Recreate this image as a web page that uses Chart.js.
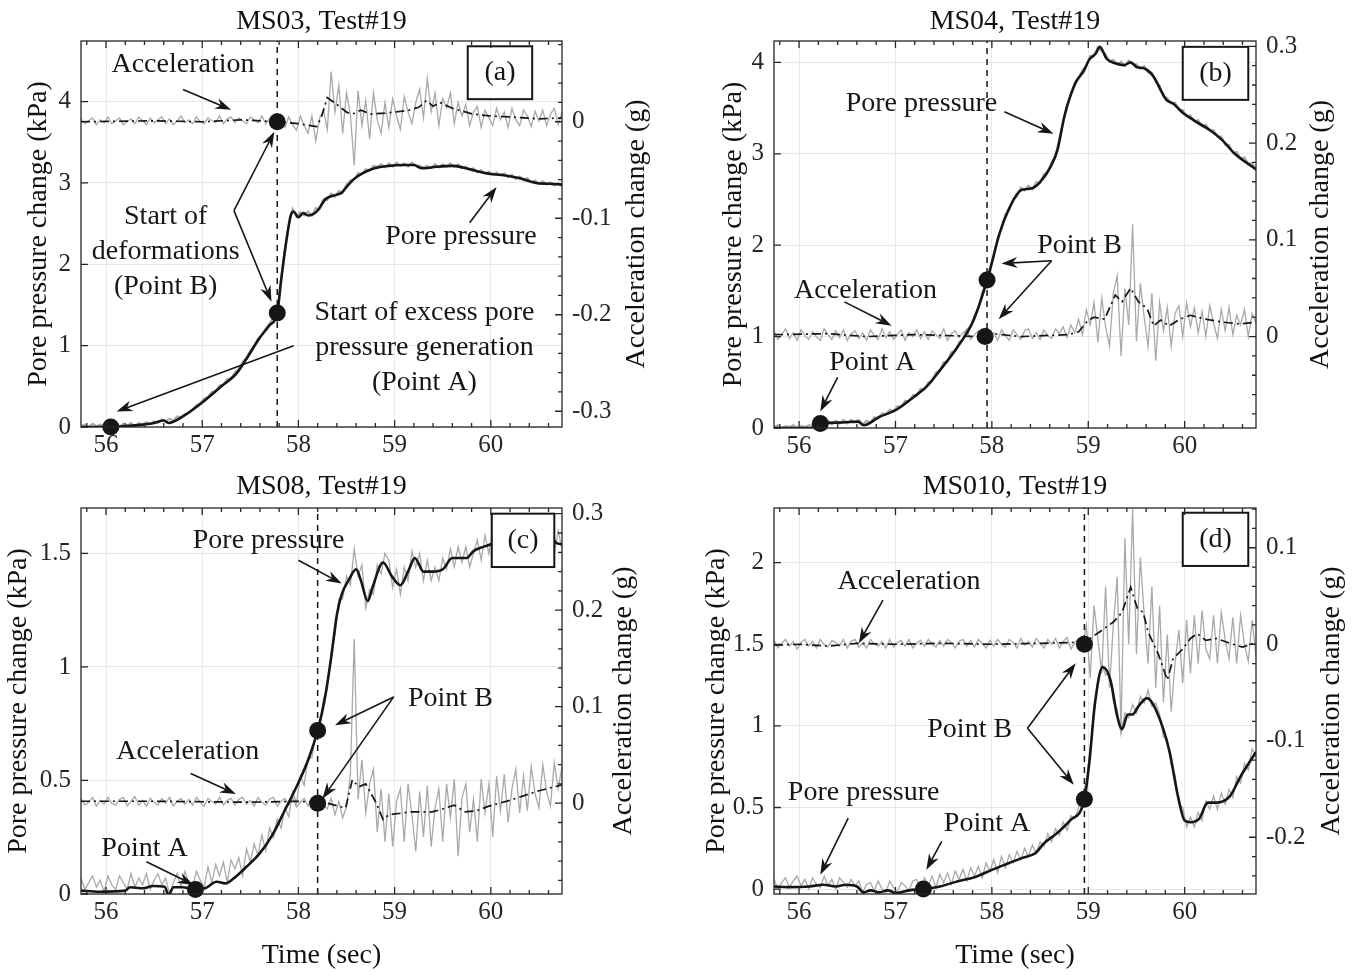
<!DOCTYPE html>
<html>
<head>
<meta charset="utf-8">
<title>Pore pressure and acceleration change, Test#19</title>
<script src="https://cdn.jsdelivr.net/npm/chart.js@4.4.1/dist/chart.umd.min.js"></script>
<style>
  body { margin: 0; background: #fff; }
  #figure { position: relative; width: 1358px; height: 975px; }
  #figure canvas { position: absolute; }
</style>
</head>
<body>
<div id="figure">
  <canvas id="panel-a" width="679" height="462" style="left:0;top:0"></canvas>
  <canvas id="panel-b" width="679" height="462" style="left:679px;top:0"></canvas>
  <canvas id="panel-c" width="679" height="513" style="left:0;top:462px"></canvas>
  <canvas id="panel-d" width="679" height="513" style="left:679px;top:462px"></canvas>
</div>
<script>
'use strict';

// ***** SHARED DATA *****

// sample times of the raw (unfiltered) records, 0.04 s apart
let rawTime = [
  55.74,55.78,55.82,55.86,55.90,55.94,55.98,56.02,56.06,56.10,
  56.14,56.18,56.22,56.26,56.30,56.34,56.38,56.42,56.46,56.50,
  56.54,56.58,56.62,56.66,56.70,56.74,56.78,56.82,56.86,56.90,
  56.94,56.98,57.02,57.06,57.10,57.14,57.18,57.22,57.26,57.30,
  57.34,57.38,57.42,57.46,57.50,57.54,57.58,57.62,57.66,57.70,
  57.74,57.78,57.82,57.86,57.90,57.94,57.98,58.02,58.06,58.10,
  58.14,58.18,58.22,58.26,58.30,58.34,58.38,58.42,58.46,58.50,
  58.54,58.58,58.62,58.66,58.70,58.74,58.78,58.82,58.86,58.90,
  58.94,58.98,59.02,59.06,59.10,59.14,59.18,59.22,59.26,59.30,
  59.34,59.38,59.42,59.46,59.50,59.54,59.58,59.62,59.66,59.70,
  59.74,59.78,59.82,59.86,59.90,59.94,59.98,60.02,60.06,60.10,
  60.14,60.18,60.22,60.26,60.30,60.34,60.38,60.42,60.46,60.50,
  60.54,60.58,60.62,60.66,60.70,60.74
];

let timeTicks = [56, 57, 58, 59, 60];
let timeTickLabels = ['56', '57', '58', '59', '60'];

// ***** MS03 (a) *****

let ppTimeA = [55.74,56.0,56.3,56.5,56.6,56.65,56.8,57.0,57.2,57.35,57.45,57.6,57.7,57.78,57.82,57.87,57.92,57.95,58.0,58.05,58.1,58.2,58.28,58.38,58.45,58.5,58.58,58.67,58.79,58.94,59.1,59.2,59.28,59.44,59.6,59.71,59.84,60.0,60.1,60.29,60.47,60.6,60.74];
let ppA = [0,0,0.02,0.05,0.08,0.05,0.13,0.3,0.5,0.65,0.82,1.1,1.25,1.4,1.8,2.25,2.6,2.65,2.58,2.63,2.6,2.66,2.8,2.85,2.88,2.95,3.05,3.12,3.18,3.21,3.22,3.22,3.18,3.2,3.21,3.19,3.15,3.11,3.1,3.06,3.0,2.99,2.98];
let accTimeA = [55.74,56.5,57.0,57.4,57.78,58.0,58.19,58.24,58.3,58.4,58.5,58.56,58.65,58.75,58.9,59.0,59.15,59.25,59.33,59.4,59.47,59.6,59.81,60.0,60.2,60.5,60.74];
let accA = [0,0.001,0,0.002,0,-0.002,-0.005,0.005,0.025,0.018,0.01,0.008,0.012,0.008,0.009,0.01,0.012,0.015,0.022,0.016,0.02,0.014,0.008,0.006,0.005,0.003,0.004];
let rawPpA = [
  0.01,0.03,0.0,0.04,0.01,0.03,0.0,0.04,0.02,0.03,
  0.0,0.04,0.02,0.05,0.01,0.05,0.03,0.06,0.04,0.07,
  0.05,0.09,0.07,0.10,0.08,0.13,0.12,0.16,0.17,0.22,
  0.27,0.29,0.35,0.37,0.43,0.44,0.51,0.52,0.59,0.60,
  0.67,0.71,0.80,0.85,0.94,1.00,1.09,1.13,1.21,1.27,
  1.35,1.42,1.82,2.2,2.48,2.68,2.58,2.64,2.6,2.65,
  2.6,2.69,2.68,2.8,2.79,2.87,2.83,2.9,2.88,2.98,
  3.03,3.04,3.12,3.11,3.17,3.15,3.21,3.2,3.23,3.19,
  3.24,3.2,3.25,3.21,3.24,3.2,3.25,3.21,3.21,3.19,
  3.21,3.18,3.23,3.19,3.23,3.2,3.24,3.2,3.23,3.18,
  3.2,3.16,3.18,3.13,3.16,3.11,3.14,3.1,3.13,3.09,
  3.12,3.07,3.1,3.05,3.08,3.03,3.06,3.01,3.03,2.99,
  3.02,2.98,3.01,2.97,3.0,2.96
];
let rawAccA = [
  0.003,-0.002,0.001,0.004,-0.003,0.002,-0.001,0.005,-0.002,0.001,
  0.004,-0.003,0.000,0.003,-0.002,0.005,0.001,-0.003,0.004,-0.001,
  0.002,0.005,-0.002,0.003,-0.003,0.001,0.006,-0.001,0.002,-0.002,
  0.005,0.000,-0.002,0.004,0.001,-0.001,0.006,-0.002,0.003,0.005,
  -0.001,0.004,0.001,-0.002,0.005,0.002,-0.001,0.006,-0.002,0.003,
  0.004,-0.002,0.001,-0.006,0.005,-0.003,-0.009,0.006,-0.004,-0.012,
  0.006,-0.020,0.004,0.012,-0.008,0.052,0.010,0.038,-0.012,0.030,
  0.008,-0.045,0.032,-0.004,0.022,-0.018,0.030,0.002,-0.012,0.020,
  -0.006,0.024,0.006,-0.008,0.026,0.010,-0.002,0.020,0.034,0.004,
  0.045,0.010,0.030,-0.004,0.024,0.014,0.030,-0.002,0.020,0.006,
  0.018,-0.004,0.010,0.016,-0.006,0.012,0.004,-0.004,0.014,0.002,
  0.010,-0.006,0.014,0.002,-0.004,0.012,0.006,-0.005,0.011,0.001,
  0.012,-0.004,0.008,0.014,-0.003,0.010
];
let markTimeA = [56.05, 57.78];
let markPpA = [0, 1.4];
let accMarkA = [57.78, 0];
let onsetA = 57.78;
let ppTicksA = [0, 1, 2, 3, 4];
let ppTickLabelsA = ['0', '1', '2', '3', '4'];
let accTicksA = [-0.3, -0.2, -0.1, 0];
let accTickLabelsA = ['-0.3', '-0.2', '-0.1', '0'];

// ***** MS04 (b) *****

let ppTimeB = [55.74,56.12,56.24,56.45,56.61,56.67,56.83,57.01,57.19,57.32,57.46,57.64,57.81,57.96,58.08,58.17,58.3,58.41,58.5,58.61,58.68,58.75,58.81,58.88,58.95,59.01,59.08,59.12,59.19,59.28,59.37,59.44,59.5,59.59,59.68,59.75,59.81,59.88,59.99,60.12,60.26,60.39,60.52,60.74];
let ppB = [0,0,0.05,0.06,0.07,0.03,0.12,0.2,0.34,0.45,0.63,0.88,1.18,1.65,2.13,2.38,2.6,2.62,2.69,2.86,3.04,3.4,3.62,3.8,3.9,4.03,4.1,4.17,4.04,3.99,3.97,4.0,3.95,3.93,3.84,3.7,3.59,3.55,3.44,3.35,3.26,3.15,3.0,2.83];
let accTimeB = [55.74,56.3,56.7,57.2,57.9,58.0,58.3,58.8,58.9,59.0,59.06,59.17,59.28,59.35,59.44,59.52,59.61,59.68,59.75,59.84,59.95,60.06,60.21,60.39,60.57,60.74];
let accB = [0.002,0.003,0,0.002,0,0.003,0,0.002,0.005,0.017,0.02,0.018,0.043,0.036,0.05,0.036,0.029,0.011,0.017,0.011,0.018,0.022,0.018,0.015,0.013,0.015];
let rawPpB = [
  0.01,0.03,0.0,0.02,0.01,0.03,0.0,0.02,0.01,0.03,
  0.03,0.01,0.07,0.04,0.08,0.04,0.08,0.05,0.09,0.05,
  0.09,0.06,0.09,0.04,0.08,0.06,0.12,0.1,0.16,0.15,
  0.2,0.18,0.24,0.23,0.3,0.29,0.36,0.35,0.43,0.42,
  0.5,0.51,0.61,0.62,0.72,0.73,0.83,0.84,0.94,0.97,
  1.08,1.11,1.23,1.31,1.49,1.58,1.75,1.88,2.08,2.18,
  2.34,2.39,2.5,2.53,2.63,2.6,2.65,2.61,2.69,2.68,
  2.78,2.8,2.91,2.98,3.17,3.34,3.54,3.64,3.78,3.82,
  3.92,3.96,4.07,4.07,4.17,4.12,4.09,4.01,4.03,3.98,
  4.01,3.96,4.02,3.98,3.98,3.93,3.96,3.89,3.89,3.79,
  3.75,3.63,3.61,3.55,3.56,3.48,3.48,3.41,3.42,3.35,
  3.37,3.3,3.32,3.25,3.26,3.19,3.19,3.1,3.1,3.01,
  3.02,2.95,2.96,2.89,2.9,2.82
];
let rawAccB = [
  0.006,-0.003,0.002,0.008,-0.002,0.004,-0.004,0.007,0.001,-0.003,
  0.005,0.000,-0.004,0.008,0.002,-0.003,0.006,-0.001,0.007,-0.004,
  0.003,0.006,-0.002,0.004,-0.004,0.007,0.001,-0.003,0.008,-0.001,
  0.005,-0.003,0.002,0.007,-0.004,0.004,0.000,0.007,-0.002,0.005,
  -0.003,0.006,0.002,-0.002,0.008,-0.004,0.003,0.006,-0.001,0.004,
  0.007,-0.003,0.002,0.006,-0.006,0.009,-0.002,0.004,-0.004,0.007,
  0.001,-0.004,0.007,0.002,-0.003,0.006,0.008,-0.002,0.004,-0.003,
  0.007,0.001,-0.002,0.008,0.003,0.010,-0.001,0.012,0.004,0.018,
  0.002,0.028,0.012,0.035,-0.006,0.040,0.010,-0.010,0.045,0.063,
  -0.020,0.050,0.012,0.116,-0.005,0.055,0.020,-0.010,0.045,-0.025,
  0.035,0.006,0.030,-0.010,0.024,0.032,0.000,0.035,0.010,0.030,
  0.004,0.026,0.000,0.032,0.014,-0.002,0.028,0.006,0.030,0.002,
  0.022,0.012,0.028,0.000,0.024,0.014
];
let markTimeB = [56.22, 57.95];
let markPpB = [0.05, 1.62];
let accMarkB = [57.93, 0];
let onsetB = 57.95;
let ppTicksB = [0, 1, 2, 3, 4];
let ppTickLabelsB = ['0', '1', '2', '3', '4'];
let accTicksB = [0, 0.1, 0.2, 0.3];
let accTickLabelsB = ['0', '0.1', '0.2', '0.3'];

// ***** MS08 (c) *****

let ppTimeC = [55.74,55.93,56.2,56.25,56.38,56.49,56.61,56.65,56.7,56.79,56.93,57.03,57.15,57.24,57.33,57.46,57.6,57.73,57.86,58.0,58.11,58.2,58.27,58.34,58.4,58.45,58.52,58.6,58.65,58.72,58.77,58.88,58.97,59.06,59.15,59.21,59.3,59.39,59.5,59.6,59.66,59.75,59.82,59.93,60.0,60.11,60.29,60.47,60.6,60.67,60.74];
let ppC = [0.015,0.01,0.015,0.03,0.025,0.035,0.032,-0.005,0.03,0.03,0.02,0.025,0.054,0.047,0.07,0.12,0.18,0.26,0.37,0.49,0.6,0.72,0.85,1.04,1.23,1.32,1.38,1.43,1.38,1.29,1.35,1.46,1.4,1.36,1.43,1.48,1.42,1.42,1.43,1.48,1.48,1.48,1.51,1.53,1.54,1.56,1.57,1.59,1.61,1.55,1.54];
let accTimeC = [55.74,56.5,57.5,58.0,58.3,58.45,58.49,58.56,58.63,58.7,58.81,58.88,58.94,59.17,59.39,59.5,59.62,59.73,59.85,59.98,60.2,60.47,60.74];
let accC = [0.002,0.002,0.001,0.002,0,-0.004,-0.005,0.024,0.017,0.02,0,-0.017,-0.012,-0.009,-0.009,-0.006,-0.002,-0.009,-0.008,-0.003,0.003,0.012,0.019];
let rawPpC = [
  0.07,0.02,0.05,0.08,0.03,0.06,0.01,0.08,0.04,0.02,
  0.08,0.05,0.02,0.09,0.03,0.07,0.04,0.09,0.02,0.06,
  0.09,0.04,0.07,0.0,0.05,0.09,0.03,0.1,0.05,0.03,
  0.1,0.06,0.03,0.12,0.05,0.13,0.08,0.14,0.05,0.15,
  0.11,0.16,0.08,0.2,0.14,0.22,0.17,0.26,0.19,0.29,
  0.25,0.33,0.29,0.38,0.34,0.45,0.4,0.52,0.48,0.6,
  0.6,0.71,0.72,0.86,0.9,1.06,1.14,1.3,1.3,1.4,
  1.36,1.52,1.4,1.45,1.26,1.34,1.32,1.45,1.41,1.5,
  1.47,1.35,1.43,1.32,1.44,1.38,1.51,1.44,1.5,1.38,
  1.47,1.38,1.44,1.38,1.48,1.43,1.52,1.44,1.53,1.46,
  1.53,1.44,1.5,1.56,1.47,1.58,1.5,1.6,1.52,1.61,
  1.51,1.62,1.55,1.52,1.64,1.56,1.66,1.53,1.65,1.57,
  1.66,1.56,1.65,1.5,1.6,1.52
];
let rawAccC = [
  0.005,-0.002,0.001,0.006,-0.003,0.003,-0.001,0.006,0.000,-0.002,
  0.004,0.006,-0.003,0.002,0.007,-0.002,0.003,-0.003,0.005,0.001,
  -0.002,0.005,0.000,0.006,-0.003,0.002,0.005,-0.001,0.004,-0.002,
  0.006,0.001,-0.003,0.005,0.002,-0.001,0.006,-0.002,0.003,0.005,
  -0.002,0.004,0.006,-0.001,0.003,-0.003,0.006,0.001,-0.002,0.004,
  0.006,-0.003,0.002,0.005,-0.002,0.006,-0.004,0.001,0.005,-0.003,
  0.004,-0.004,0.008,-0.001,-0.006,0.005,-0.012,0.002,-0.015,-0.004,
  0.030,0.170,0.004,0.045,-0.010,0.020,0.035,-0.030,0.015,-0.040,
  0.010,-0.045,0.002,0.015,-0.040,0.020,-0.012,-0.050,0.012,-0.035,
  0.018,-0.045,-0.005,0.015,-0.040,0.020,-0.015,0.025,-0.055,0.005,
  0.020,-0.030,0.004,-0.040,0.025,-0.010,0.020,-0.035,0.028,-0.008,
  0.030,-0.020,0.015,0.035,-0.010,0.028,-0.008,0.038,0.010,-0.005,
  0.040,0.012,-0.003,0.042,0.015,0.038
];
let markTimeC = [56.93, 58.2];
let markPpC = [0.02, 0.72];
let accMarkC = [58.2, 0];
let onsetC = 58.2;
let ppTicksC = [0, 0.5, 1, 1.5];
let ppTickLabelsC = ['0', '0.5', '1', '1.5'];
let accTicksC = [0, 0.1, 0.2, 0.3];
let accTickLabelsC = ['0', '0.1', '0.2', '0.3'];

// ***** MS010 (d) *****

let ppTimeD = [55.74,55.88,56.11,56.25,56.38,56.49,56.6,56.67,56.74,56.83,56.92,57.01,57.14,57.29,57.46,57.64,57.82,58.0,58.18,58.31,58.45,58.54,58.67,58.81,58.96,59.01,59.07,59.15,59.23,59.3,59.35,59.41,59.46,59.52,59.61,59.7,59.84,59.93,60.0,60.06,60.15,60.24,60.33,60.47,60.58,60.74];
let ppD = [0.016,0.012,0.016,0.027,0.016,0.027,0.016,-0.02,-0.008,-0.02,-0.008,-0.024,-0.008,0,0.016,0.047,0.073,0.118,0.16,0.19,0.22,0.28,0.34,0.42,0.55,0.77,1.14,1.36,1.28,1.06,0.98,1.07,1.07,1.12,1.17,1.1,0.85,0.57,0.42,0.41,0.43,0.53,0.53,0.57,0.69,0.84];
let accTimeD = [55.74,56.0,56.3,56.6,57.0,57.5,58.0,58.5,58.9,58.96,59.12,59.26,59.35,59.44,59.51,59.57,59.62,59.73,59.82,59.88,59.97,60.06,60.13,60.22,60.33,60.47,60.6,60.74];
let accD = [-0.001,0,-0.002,0.001,0,0.001,0,0.001,0.002,0.002,0.013,0.023,0.033,0.059,0.037,0.033,0.013,-0.011,-0.037,-0.015,-0.006,0.006,0.011,0.004,0.006,0.001,-0.003,0.002];
let rawPpD = [
  0.06,0.0,0.04,0.07,0.01,0.05,0.08,0.02,0.06,0.0,
  0.07,0.03,0.01,0.08,0.02,0.06,0.0,0.07,0.04,0.01,
  0.06,0.02,0.05,-0.02,0.03,0.04,-0.01,0.05,0.0,-0.02,
  0.05,0.01,-0.02,0.04,0.02,-0.01,0.05,0.06,0.0,0.07,
  0.02,0.08,0.01,0.09,0.04,0.1,0.03,0.11,0.06,0.12,
  0.05,0.13,0.08,0.14,0.07,0.16,0.11,0.18,0.1,0.2,
  0.13,0.21,0.16,0.23,0.18,0.25,0.2,0.27,0.22,0.29,
  0.26,0.34,0.29,0.37,0.33,0.41,0.36,0.45,0.43,0.5,
  0.58,0.66,0.86,1.1,1.28,1.38,1.31,1.34,1.15,1.1,
  0.95,1.08,1.05,1.13,1.08,1.18,1.14,1.22,1.12,1.14,
  1.07,0.93,0.92,0.76,0.7,0.52,0.5,0.38,0.44,0.38,
  0.47,0.42,0.54,0.49,0.57,0.49,0.59,0.52,0.61,0.56,
  0.69,0.65,0.77,0.73,0.86,0.81
];
let rawAccD = [
  0.004,-0.004,0.001,0.005,-0.002,0.003,-0.005,0.002,0.005,-0.002,
  0.003,-0.004,0.005,0.000,-0.003,0.004,0.002,-0.002,0.005,-0.004,
  0.003,0.005,-0.003,0.001,-0.004,0.005,0.000,-0.002,0.003,-0.004,
  0.005,-0.003,0.002,0.004,-0.002,0.005,-0.004,0.001,0.004,-0.002,
  0.005,0.000,-0.003,0.004,-0.002,0.005,0.002,-0.004,0.003,0.005,
  -0.002,0.004,-0.003,0.005,0.001,-0.004,0.004,-0.002,0.005,0.000,
  -0.003,0.005,0.002,-0.004,0.006,-0.001,0.003,-0.003,0.006,0.001,
  -0.004,0.005,0.000,0.006,-0.004,0.003,0.007,-0.005,0.002,0.006,
  -0.004,0.020,-0.035,0.040,0.005,-0.030,0.060,-0.045,0.020,0.070,
  -0.090,0.110,0.000,0.140,-0.010,0.090,0.030,-0.020,0.060,-0.045,
  0.040,-0.060,0.010,-0.070,-0.020,0.015,-0.040,0.025,-0.030,0.030,
  -0.020,0.035,-0.005,-0.015,0.030,-0.020,0.033,0.005,-0.015,0.028,
  -0.020,0.030,0.000,-0.018,0.025,-0.012
];
let markTimeD = [57.29, 58.96];
let markPpD = [0, 0.55];
let accMarkD = [58.96, 0];
let onsetD = 58.96;
let ppTicksD = [0, 0.5, 1, 1.5, 2];
let ppTickLabelsD = ['0', '0.5', '1', '1.5', '2'];
let accTicksD = [-0.2, -0.1, 0, 0.1];
let accTickLabelsD = ['-0.2', '-0.1', '0', '0.1'];

// ***** ANNOTATIONS (text and arrows placed in data units) *****

let notesA = [
  ['Acceleration', 56.80, 4.45],
  ['Start of', 56.62, 2.58], ['deformations', 56.62, 2.15], ['(Point B)', 56.62, 1.72],
  ['Start of excess pore', 59.31, 1.40], ['pressure generation', 59.31, 0.97], ['(Point A)', 59.31, 0.54],
  ['Pore pressure', 59.69, 2.34]
];
let arrowsA = [
  [56.80, 4.15, 57.30, 3.90],
  [57.33, 2.66, 57.75, 3.63],
  [57.33, 2.66, 57.72, 1.54],
  [57.95, 1.00, 56.11, 0.19],
  [59.78, 2.51, 60.06, 2.95]
];
let notesB = [
  ['Pore pressure', 57.27, 3.55], ['Point B', 58.91, 2.0],
  ['Acceleration', 56.69, 1.50], ['Point A', 56.76, 0.72]
];
let arrowsB = [
  [58.13, 3.46, 58.64, 3.22],
  [58.62, 1.83, 58.10, 1.80],
  [58.62, 1.83, 58.07, 1.19],
  [56.47, 1.38, 56.96, 1.12],
  [56.40, 0.555, 56.22, 0.18]
];
let notesC = [
  ['Pore pressure', 57.69, 1.557], ['Point B', 59.58, 0.861],
  ['Acceleration', 56.85, 0.626], ['Point A', 56.40, 0.201]
];
let arrowsC = [
  [58.00, 1.47, 58.45, 1.367],
  [58.99, 0.868, 58.38, 0.743],
  [58.99, 0.868, 58.25, 0.42],
  [56.88, 0.531, 57.35, 0.44],
  [56.42, 0.142, 56.91, 0.04]
];
let notesD = [
  ['Acceleration', 57.14, 1.884], ['Point B', 57.77, 0.976],
  ['Pore pressure', 56.67, 0.588], ['Point A', 57.95, 0.404]
];
let arrowsD = [
  [56.87, 1.771, 56.62, 1.506],
  [58.37, 0.986, 58.87, 1.384],
  [58.37, 0.986, 58.85, 0.639],
  [56.51, 0.435, 56.22, 0.088],
  [57.48, 0.292, 57.32, 0.118]
];

// ***** STYLE *****

let ink = '#161616';
let rawGrey = '#a9a9a9';
let gridGrey = '#e8e8e8';
let serif = '"Liberation Serif", "Times New Roman", serif';

// ***** HELPERS *****

function zip(xs, ys){
  return xs.map((x, i) => ({ x: x, y: ys[i] }));
}

// evenly spaced positions for the small inward tick marks
function tickSteps(from, to, step){
  let out = [];
  let start = Math.ceil(from / step - 1e-9);
  for(let k = start; k * step <= to + 1e-9; k++){
    out.push(+(k * step).toFixed(4));
  }
  return out;
}

function drawArrow(ctx, x1, y1, x2, y2){
  let ang = Math.atan2(y2 - y1, x2 - x1);
  let c = Math.cos(ang), s = Math.sin(ang);
  let len = 16, half = 5.5, notch = 11;
  ctx.beginPath();
  ctx.moveTo(x1, y1);
  ctx.lineTo(x2 - c * notch, y2 - s * notch);
  ctx.stroke();
  ctx.beginPath();
  ctx.moveTo(x2, y2);
  ctx.lineTo(x2 - c * len - s * half, y2 - s * len + c * half);
  ctx.lineTo(x2 - c * notch, y2 - s * notch);
  ctx.lineTo(x2 - c * len + s * half, y2 - s * len - c * half);
  ctx.closePath();
  ctx.fill();
}

// frame, inward ticks, titles, notes and the panel letter
function decorPlugin(p){
  return {
    id: 'decor',
    afterDatasetsDraw(chart){
      let ctx = chart.ctx;
      let sx = chart.scales.x, sy = chart.scales.y;
      let px = v => sx.getPixelForValue(v);
      let py = v => sy.getPixelForValue(v);
      ctx.save();
      ctx.fillStyle = ink;
      ctx.strokeStyle = ink;
      ctx.lineWidth = 1.6;
      ctx.font = '28px ' + serif;
      ctx.textAlign = 'center';
      ctx.textBaseline = 'middle';
      p.notes.forEach(n => ctx.fillText(n[0], px(n[1]), py(n[2])));
      p.arrows.forEach(r => drawArrow(ctx, px(r[0]), py(r[1]), px(r[2]), py(r[3])));

      // letter box
      let b = p.tagBox;
      let bx = px(b[0]), by = py(b[1]), bw = px(b[2]) - bx, bh = py(b[3]) - by;
      ctx.fillStyle = '#fff';
      ctx.fillRect(bx, by, bw, bh);
      ctx.lineWidth = 2;
      ctx.strokeRect(bx, by, bw, bh);
      ctx.fillStyle = ink;
      ctx.fillText(p.tag, bx + bw / 2, by + bh / 2);
      ctx.restore();
    },
    afterDraw(chart){
      let ctx = chart.ctx;
      let a = chart.chartArea;
      let sx = chart.scales.x, sy = chart.scales.y, sy2 = chart.scales.y2;
      ctx.save();
      ctx.strokeStyle = '#262626';
      ctx.lineWidth = 1.3;
      ctx.strokeRect(a.left, a.top, a.right - a.left, a.bottom - a.top);

      ctx.beginPath();
      tickSteps(sx.min, sx.max, 0.2).forEach(v => {
        let x = sx.getPixelForValue(v);
        let l = Number.isInteger(Math.round(v * 1000) / 1000) ? 7 : 4;
        ctx.moveTo(x, a.bottom); ctx.lineTo(x, a.bottom - l);
        ctx.moveTo(x, a.top); ctx.lineTo(x, a.top + l);
      });
      p.ppTicks.forEach(v => {
        let y = sy.getPixelForValue(v);
        ctx.moveTo(a.left, y); ctx.lineTo(a.left + 7, y);
      });
      tickSteps(sy2.min, sy2.max, 0.02).forEach(v => {
        let y = sy2.getPixelForValue(v);
        let major = Math.abs(v * 10 - Math.round(v * 10)) < 1e-6;
        ctx.moveTo(a.right, y); ctx.lineTo(a.right - (major ? 7 : 4), y);
      });
      ctx.stroke();

      ctx.fillStyle = '#111';
      ctx.font = '28px ' + serif;
      ctx.textAlign = 'center';
      ctx.textBaseline = 'middle';
      let midX = (a.left + a.right) / 2;
      let midY = (a.top + a.bottom) / 2;
      ctx.fillText(p.title, midX, p.titleY);
      if(p.xTitleY){
        ctx.fillText('Time (sec)', midX, p.xTitleY);
      }
      [[p.leftLabelX, 'Pore pressure change (kPa)'], [p.rightLabelX, 'Acceleration change (g)']].forEach(t => {
        ctx.save();
        ctx.translate(t[0], midY);
        ctx.rotate(-Math.PI / 2);
        ctx.fillText(t[1], 0, 0);
        ctx.restore();
      });
      ctx.restore();
    }
  };
}

// ***** CHART BUILDER *****

function renderPanel(p){
  let canvas = document.getElementById(p.canvas);
  let W = canvas.width, H = canvas.height;
  let tickFont = { family: serif, size: 25 };

  let datasets = [
    {
      data: zip(p.markTime, p.markPp), yAxisID: 'y', showLine: false,
      pointRadius: 8.5, pointBackgroundColor: ink, pointBorderWidth: 0, clip: false
    },
    {
      data: [{ x: p.accMark[0], y: p.accMark[1] }], yAxisID: 'y2', showLine: false,
      pointRadius: 8.5, pointBackgroundColor: ink, pointBorderWidth: 0, clip: false
    },
    {
      data: [{ x: p.onset, y: p.ppRange[0] }, { x: p.onset, y: p.ppRange[1] }], yAxisID: 'y',
      borderColor: ink, borderWidth: 1.5, borderDash: [6, 5]
    },
    {
      data: zip(p.ppTime, p.pp), yAxisID: 'y',
      borderColor: ink, borderWidth: 2.6, cubicInterpolationMode: 'monotone'
    },
    {
      data: zip(p.accTime, p.acc), yAxisID: 'y2',
      borderColor: ink, borderWidth: 1.7, borderDash: [9, 4, 2, 4]
    },
    {
      data: zip(rawTime, p.rawPp), yAxisID: 'y',
      borderColor: rawGrey, borderWidth: p.rawPpWidth
    },
    {
      data: zip(rawTime, p.rawAcc), yAxisID: 'y2',
      borderColor: rawGrey, borderWidth: 1.3
    }
  ];

  new Chart(canvas, {
    type: 'line',
    data: { datasets: datasets },
    options: {
      responsive: false,
      animation: false,
      devicePixelRatio: 1,
      layout: { padding: { top: p.area.top, left: 0, right: 0, bottom: 0 } },
      elements: { point: { radius: 0 }, line: { tension: 0 } },
      plugins: { legend: { display: false }, tooltip: { enabled: false } },
      scales: {
        x: {
          type: 'linear', min: 55.74, max: 60.74,
          afterFit(s){ s.height = H - p.area.bottom; },
          afterBuildTicks(s){ s.ticks = timeTicks.map(v => ({ value: v })); },
          grid: { color: gridGrey, drawTicks: false },
          border: { display: false },
          ticks: {
            font: tickFont, color: '#262626', padding: 3, maxRotation: 0, autoSkip: false,
            callback: (v, i) => timeTickLabels[i]
          }
        },
        y: {
          position: 'left', min: p.ppRange[0], max: p.ppRange[1],
          afterFit(s){ s.width = p.area.left; },
          afterBuildTicks(s){ s.ticks = p.ppTicks.map(v => ({ value: v })); },
          grid: { color: gridGrey, drawTicks: false },
          border: { display: false },
          ticks: {
            font: tickFont, color: '#262626', padding: 10, autoSkip: false,
            callback: (v, i) => p.ppTickLabels[i]
          }
        },
        y2: {
          position: 'right', min: p.accRange[0], max: p.accRange[1],
          afterFit(s){ s.width = W - p.area.right; },
          afterBuildTicks(s){ s.ticks = p.accTicks.map(v => ({ value: v })); },
          grid: { display: false, drawTicks: false },
          border: { display: false },
          ticks: {
            font: tickFont, color: '#262626', padding: 10, autoSkip: false,
            callback: (v, i) => p.accTickLabels[i]
          }
        }
      }
    },
    plugins: [decorPlugin(p)]
  });
}

// ***** PANELS *****

renderPanel({
  canvas: 'panel-a', title: 'MS03, Test#19', tag: '(a)',
  area: { left: 81, top: 41, right: 562, bottom: 427 },
  titleY: 22, leftLabelX: 39, rightLabelX: 637,
  ppRange: [0, 4.745], accRange: [-0.3163, 0.0837],
  ppTicks: ppTicksA, ppTickLabels: ppTickLabelsA, accTicks: accTicksA, accTickLabels: accTickLabelsA,
  ppTime: ppTimeA, pp: ppA, accTime: accTimeA, acc: accA, rawPp: rawPpA, rawAcc: rawAccA, rawPpWidth: 2,
  markTime: markTimeA, markPp: markPpA, accMark: accMarkA, onset: onsetA,
  notes: notesA, arrows: arrowsA, tagBox: [59.76, 4.68, 60.43, 4.03]
});

renderPanel({
  canvas: 'panel-b', title: 'MS04, Test#19', tag: '(b)',
  area: { left: 95, top: 41, right: 577, bottom: 428 },
  titleY: 22, leftLabelX: 55, rightLabelX: 642,
  ppRange: [0, 4.234], accRange: [-0.0945, 0.3055],
  ppTicks: ppTicksB, ppTickLabels: ppTickLabelsB, accTicks: accTicksB, accTickLabels: accTickLabelsB,
  ppTime: ppTimeB, pp: ppB, accTime: accTimeB, acc: accB, rawPp: rawPpB, rawAcc: rawAccB, rawPpWidth: 2,
  markTime: markTimeB, markPp: markPpB, accMark: accMarkB, onset: onsetB,
  notes: notesB, arrows: arrowsB, tagBox: [59.98, 4.17, 60.66, 3.59]
});

renderPanel({
  canvas: 'panel-c', title: 'MS08, Test#19', tag: '(c)',
  area: { left: 81, top: 46, right: 562, bottom: 432 },
  titleY: 25, leftLabelX: 19, rightLabelX: 624, xTitleY: 494,
  ppRange: [0, 1.7], accRange: [-0.0941, 0.3059],
  ppTicks: ppTicksC, ppTickLabels: ppTickLabelsC, accTicks: accTicksC, accTickLabels: accTickLabelsC,
  ppTime: ppTimeC, pp: ppC, accTime: accTimeC, acc: accC, rawPp: rawPpC, rawAcc: rawAccC, rawPpWidth: 1.3,
  markTime: markTimeC, markPp: markPpC, accMark: accMarkC, onset: onsetC,
  notes: notesC, arrows: arrowsC, tagBox: [60.01, 1.675, 60.66, 1.44]
});

renderPanel({
  canvas: 'panel-d', title: 'MS010, Test#19', tag: '(d)',
  area: { left: 95, top: 46, right: 577, bottom: 432 },
  titleY: 25, leftLabelX: 38, rightLabelX: 653, xTitleY: 494,
  ppRange: [-0.03, 2.335], accRange: [-0.2588, 0.1412],
  ppTicks: ppTicksD, ppTickLabels: ppTickLabelsD, accTicks: accTicksD, accTickLabels: accTickLabelsD,
  ppTime: ppTimeD, pp: ppD, accTime: accTimeD, acc: accD, rawPp: rawPpD, rawAcc: rawAccD, rawPpWidth: 1.3,
  markTime: markTimeD, markPp: markPpD, accMark: accMarkD, onset: onsetD,
  notes: notesD, arrows: arrowsD, tagBox: [59.98, 2.306, 60.66, 1.98]
});
</script>
</body>
</html>
